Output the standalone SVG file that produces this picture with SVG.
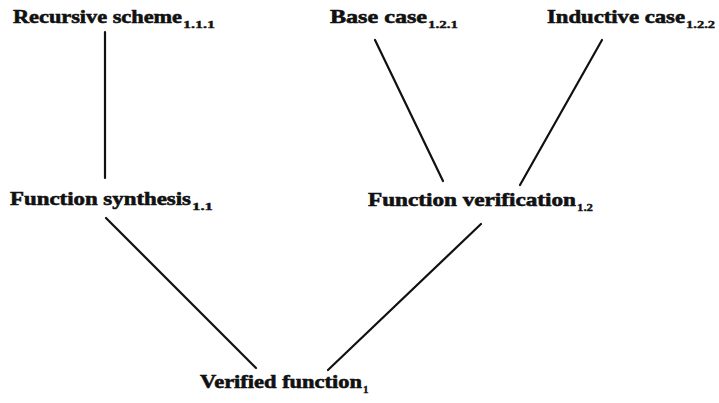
<svg xmlns="http://www.w3.org/2000/svg" width="719" height="403" viewBox="0 0 719 403">
<style>
text{font-family:"Liberation Serif","DejaVu Serif",serif;font-weight:bold;fill:#111;stroke:#111;stroke-width:0.6}
.m{font-size:19px}
.s{font-size:11px;stroke-width:0.4}
.c line{stroke:#111;stroke-width:2.2;stroke-linecap:round}
</style>
<rect width="719" height="403" fill="#fff"/>
<g class="c" id="connectors">
<line x1="105" y1="32" x2="105" y2="178"/>
<line x1="375" y1="40" x2="443" y2="181"/>
<line x1="602" y1="40" x2="520" y2="185"/>
<line x1="106" y1="218" x2="256" y2="368"/>
<line x1="481" y1="224" x2="328" y2="370"/>
</g>
<g id="n111"><text class="m" x="13" y="23" textLength="169" lengthAdjust="spacingAndGlyphs">Recursive scheme</text><text class="s" x="183" y="28" textLength="32" lengthAdjust="spacingAndGlyphs">1.1.1</text></g>
<g id="n121"><text class="m" x="330" y="23" textLength="97" lengthAdjust="spacingAndGlyphs">Base case</text><text class="s" x="428" y="28" textLength="30" lengthAdjust="spacingAndGlyphs">1.2.1</text></g>
<g id="n122"><text class="m" x="547" y="23" textLength="138" lengthAdjust="spacingAndGlyphs">Inductive case</text><text class="s" x="686" y="28" textLength="29" lengthAdjust="spacingAndGlyphs">1.2.2</text></g>
<g id="n11"><text class="m" x="10" y="205" textLength="181" lengthAdjust="spacingAndGlyphs">Function synthesis</text><text class="s" x="192" y="210" textLength="21" lengthAdjust="spacingAndGlyphs">1.1</text></g>
<g id="n12"><text class="m" x="368" y="206" textLength="208" lengthAdjust="spacingAndGlyphs">Function verification</text><text class="s" x="577" y="211" textLength="16" lengthAdjust="spacingAndGlyphs">1.2</text></g>
<g id="n1"><text class="m" x="200" y="388" textLength="162" lengthAdjust="spacingAndGlyphs">Verified function</text><text class="s" x="363" y="393">1</text></g>
</svg>
